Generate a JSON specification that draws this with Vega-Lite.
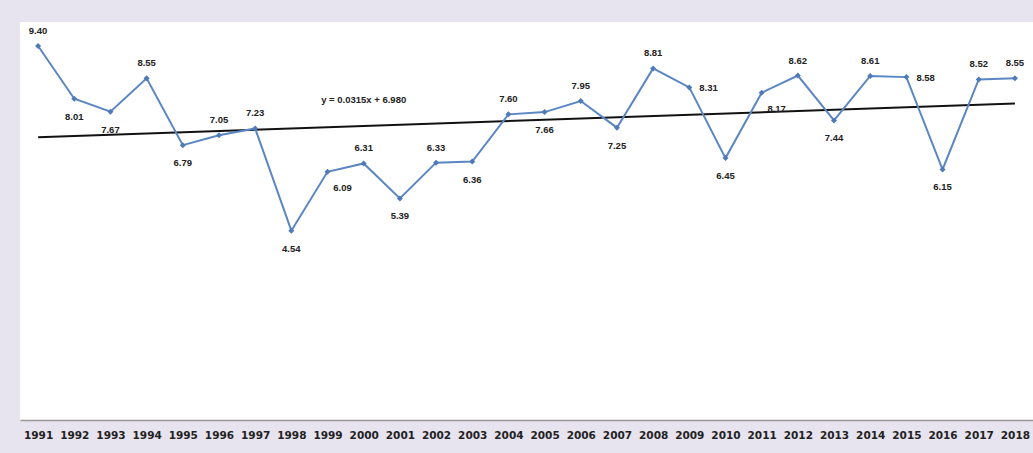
{
  "$schema": "https://vega.github.io/schema/vega-lite/v6.json",
  "autosize": "none",
  "width": 1013,
  "height": 398,
  "padding": {"left": 20, "top": 22, "right": 0, "bottom": 33},
  "background": "#e7e3ef",
  "config": {
    "view": {"fill": "white", "stroke": null},
    "font": "Liberation Sans"
  },
  "datasets": {
    "main": [
      {"year": 1991, "value": 9.40},
      {"year": 1992, "value": 8.01},
      {"year": 1993, "value": 7.67},
      {"year": 1994, "value": 8.55},
      {"year": 1995, "value": 6.79},
      {"year": 1996, "value": 7.05},
      {"year": 1997, "value": 7.23},
      {"year": 1998, "value": 4.54},
      {"year": 1999, "value": 6.09},
      {"year": 2000, "value": 6.31},
      {"year": 2001, "value": 5.39},
      {"year": 2002, "value": 6.33},
      {"year": 2003, "value": 6.36},
      {"year": 2004, "value": 7.60},
      {"year": 2005, "value": 7.66},
      {"year": 2006, "value": 7.95},
      {"year": 2007, "value": 7.25},
      {"year": 2008, "value": 8.81},
      {"year": 2009, "value": 8.31},
      {"year": 2010, "value": 6.45},
      {"year": 2011, "value": 8.17},
      {"year": 2012, "value": 8.62},
      {"year": 2013, "value": 7.44},
      {"year": 2014, "value": 8.61},
      {"year": 2015, "value": 8.58},
      {"year": 2016, "value": 6.15},
      {"year": 2017, "value": 8.52},
      {"year": 2018, "value": 8.55}
    ],
    "eq": [
      {"year": 2000, "value": 7.98, "label": "y = 0.0315x + 6.980"}
    ]
  },
  "data": {"name": "main"},
  "encoding": {
    "x": {
      "field": "year", "type": "quantitative",
      "scale": {"domain": [1990.5, 2018.5], "nice": false, "zero": false},
      "axis": {
        "values": [1991,1992,1993,1994,1995,1996,1997,1998,1999,2000,2001,2002,2003,2004,2005,2006,2007,2008,2009,2010,2011,2012,2013,2014,2015,2016,2017,2018],
        "format": "d", "title": null, "grid": false, "ticks": false,
        "domainColor": "#9a9a9a", "domainWidth": 1.5,
        "labelFont": "DejaVu Sans", "labelFontSize": 10.5, "labelFontWeight": "bold",
        "labelColor": "#222222", "labelPadding": 10, "labelOverlap": false, "labelFlush": false
      }
    },
    "y": {
      "field": "value", "type": "quantitative",
      "scale": {"domain": [-0.44, 10.03], "nice": false, "zero": false},
      "axis": null
    }
  },
  "layer": [
    {
      "transform": [{"regression": "value", "on": "year", "extent": [1991, 2018]}],
      "mark": {"type": "line", "color": "#111111", "strokeWidth": 2}
    },
    {
      "mark": {"type": "line", "color": "#5a86c2", "strokeWidth": 2,
        "point": {"shape": "diamond", "size": 36, "filled": true, "color": "#4f7ab8"}}
    },
    {
      "transform": [{"filter": {"field": "year", "oneOf": [1991,1994,1996,1997,2000,2002,2004,2006,2008,2012,2014,2017,2018]}}],
      "mark": {"type": "text", "dy": -15, "fontSize": 9.5, "fontWeight": "bold", "color": "#222222"},
      "encoding": {"text": {"field": "value", "format": ".2f"}}
    },
    {
      "transform": [{"filter": {"field": "year", "oneOf": [1992,1993,1995,1998,2001,2003,2005,2007,2010,2013,2016]}}],
      "mark": {"type": "text", "dy": 18, "fontSize": 9.5, "fontWeight": "bold", "color": "#222222"},
      "encoding": {"text": {"field": "value", "format": ".2f"}}
    },
    {
      "transform": [{"filter": {"field": "year", "oneOf": [1999, 2011]}}],
      "mark": {"type": "text", "dx": 15, "dy": 16, "fontSize": 9.5, "fontWeight": "bold", "color": "#222222"},
      "encoding": {"text": {"field": "value", "format": ".2f"}}
    },
    {
      "transform": [{"filter": {"field": "year", "oneOf": [2009, 2015]}}],
      "mark": {"type": "text", "align": "left", "dx": 10, "dy": 1, "fontSize": 9.5, "fontWeight": "bold", "color": "#222222"},
      "encoding": {"text": {"field": "value", "format": ".2f"}}
    },
    {
      "data": {"name": "eq"},
      "mark": {"type": "text", "fontSize": 9.5, "fontWeight": "bold", "color": "#222222"},
      "encoding": {"text": {"field": "label"}}
    }
  ]
}
